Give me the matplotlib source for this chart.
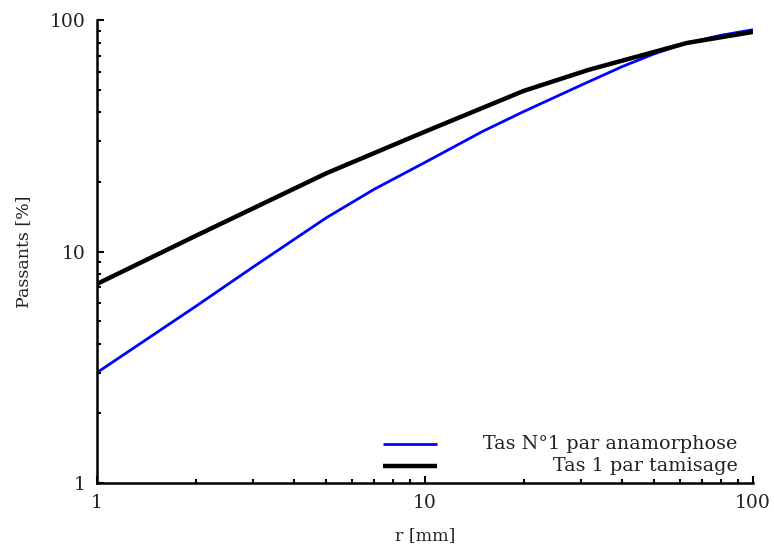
import matplotlib
matplotlib.use("Agg")
import matplotlib.pyplot as plt
from matplotlib.lines import Line2D

plt.rcParams.update({
    "font.family": ["DejaVu Serif"],
    "mathtext.fontset": "dejavuserif",
})

# ── données ────────────────────────────────────────────────────
r_tamis = [1, 2, 5, 10, 20, 31.5, 63, 100]
p_tamis = [7.25, 11.7, 21.8, 33.0, 49.5, 61.0, 79.8, 89.0]

r_anam = [1, 2, 3, 5, 7, 10, 15, 20, 30, 40, 50, 63, 80, 100]
p_anam = [3.0, 5.8, 8.6, 14.0, 18.6, 24.3, 33.1, 40.3, 52.5, 63.1, 71.6, 79.8, 86.1, 91.0]

label_anam = "Tas N°1 par anamorphose"
label_tamis = "Tas 1 par tamisage"

fig = plt.figure(figsize=(7.74, 5.47), dpi=100)
ax = fig.add_axes([0.1253, 0.117, 0.8475, 0.846])

ax.plot(r_anam, p_anam, color="#0000ff", lw=2.0, solid_capstyle="butt")
ax.plot(r_tamis, p_tamis, color="black", lw=3.2, solid_capstyle="butt")

ax.set_xscale("log")
ax.set_yscale("log")
ax.set_xlim(1, 100)
ax.set_ylim(1, 100)

for s in ["top", "right"]:
    ax.spines[s].set_visible(False)
for s in ["left", "bottom"]:
    ax.spines[s].set_linewidth(1.8)

ax.tick_params(which="both", direction="in", labelsize=13.5, width=1.5,
               labelcolor="#222222")
ax.tick_params(which="major", length=5, pad=8)
ax.tick_params(which="minor", length=3)
ax.set_xticks([1, 10, 100])
ax.set_xticklabels(["1", "10", "100"])
ax.set_yticks([1, 10, 100])
ax.set_yticklabels(["1", "10", "100"])

ax.set_xlabel("r [mm]", fontsize=12.5, labelpad=11, color="#222222")
ax.set_ylabel("Passants [%]", fontsize=12.5, labelpad=13, color="#222222")

# légende : traits à gauche, textes alignés à droite
for yy, col, lw, lab in [(0.084, "#0000ff", 2.0, label_anam),
                         (0.037, "black", 3.2, label_tamis)]:
    ax.add_line(Line2D([0.436, 0.518], [yy, yy], transform=ax.transAxes,
                       color=col, lw=lw, solid_capstyle="butt"))
    ax.text(0.977, yy, lab, transform=ax.transAxes, ha="right",
            va="center", fontsize=13.8, color="#222222")

fig.savefig("out.png", dpi=100)
